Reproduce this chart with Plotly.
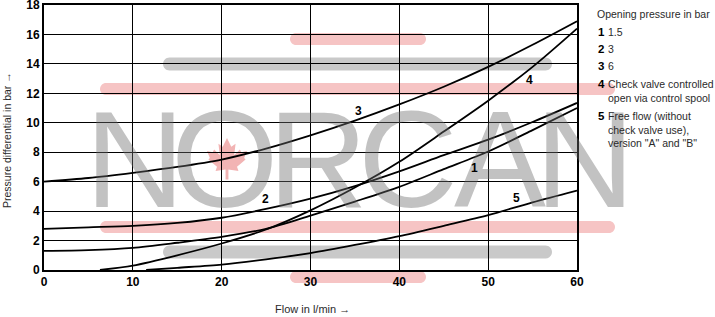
import plotly.graph_objects as go

# ---------------- data ----------------
x_main = [0, 5, 10, 15, 20, 25, 30, 35, 40, 45, 50, 55, 60]
curve1 = [1.3, 1.35, 1.5, 1.85, 2.25, 2.8, 3.7, 4.65, 5.65, 6.85, 8.05, 9.5, 11.0]
curve2 = [2.8, 2.9, 3.0, 3.2, 3.55, 4.15, 4.85, 5.7, 6.7, 7.8, 8.85, 10.05, 11.35]
curve3 = [6.0, 6.25, 6.6, 7.0, 7.5, 8.25, 9.15, 10.15, 11.25, 12.45, 13.8, 15.3, 16.9]
x_curve4 = [6.3, 10, 15, 20, 25, 30, 35, 40, 45, 50, 55, 60]
curve4 = [0.0, 0.3, 1.0, 1.8, 2.75, 4.05, 5.6, 7.35, 9.4, 11.5, 13.8, 16.4]
x_curve5 = [11.5, 15, 20, 25, 30, 35, 40, 45, 50, 55, 60]
curve5 = [0.0, 0.15, 0.37, 0.72, 1.15, 1.7, 2.3, 3.0, 3.72, 4.6, 5.4]

curve_label_text = ["1", "2", "3", "4", "5"]
curve_label_x = [48.5, 24.9, 35.4, 54.6, 53.2]
curve_label_y = [6.9, 4.8, 10.82, 12.9, 4.87]

x_ticks = [0, 10, 20, 30, 40, 50, 60]
y_ticks = [0, 2, 4, 6, 8, 10, 12, 14, 16, 18]

legend_title = "Opening pressure in bar"
legend_nums = ["1", "2", "3", "4", "5"]
legend_texts = ["1.5", "3", "6",
                "Check valve controlled<br>open via control spool",
                "Free flow (without<br>check valve use),<br>version \"A\" and \"B\""]

x_title = "Flow in l/min \u2192"
y_title = "Pressure differential in bar \u2192"

watermark_letters = ["N", "O", "R", "C", "A", "N"]

# ---------------- layout geometry (pixels) ----------------
FW, FH = 715, 317
L, T, W, H = 44, 5, 533, 265
R = FW - L - W
B = FH - T - H

def pxx(px):
    return (px - L) / W

def pxy(py):
    return (T + H - py) / H

BASE = "Liberation Sans, Arial, sans-serif"
TXT = "#2a2a2a"

fig = go.Figure()

line_style = dict(color="black", width=1.8, shape="spline", smoothing=0.8)
for xs, ys in [(x_main, curve1), (x_main, curve2), (x_main, curve3),
               (x_curve4, curve4), (x_curve5, curve5)]:
    fig.add_trace(go.Scatter(x=xs, y=ys, mode="lines", line=line_style,
                             hoverinfo="skip", showlegend=False))

# ---------------- watermark bars ----------------
def pill(a, r):
    k = 0.5523 * r
    return (f"M {-a},{-r} L {a},{-r} C {a+k},{-r} {a+r},{-k} {a+r},0 "
            f"C {a+r},{k} {a+k},{r} {a},{r} L {-a},{r} "
            f"C {-a-k},{r} {-a-r},{k} {-a-r},0 C {-a-r},{-k} {-a-k},{-r} {-a},{-r} Z")

PINK = "#f6c4c4"
GRAY = "#c9c9c9"
bars = [(290, 426, 39, 12, PINK), (163, 552, 64, 13, GRAY), (100, 615, 89, 12, PINK),
        (100, 615, 227, 12, PINK), (163, 552, 252, 13, GRAY), (290, 426, 277, 12, PINK)]
shapes = []
for x0, x1, yc, h, col in bars:
    r = h / 2
    a = (x1 - x0) / 2 - r
    shapes.append(dict(type="path", xref="paper", yref="paper",
                       xsizemode="pixel", ysizemode="pixel",
                       xanchor=pxx((x0 + x1) / 2), yanchor=pxy(yc),
                       path=pill(a, r), fillcolor=col, line=dict(width=0),
                       layer="below"))

leaf = [(0, 15), (3, 9), (6, 11), (5, 3), (9, 7), (10, 5), (14, 6), (12, 1), (13, 0),
        (7, -5), (8, -8), (1, -7), (1, -14)]
leaf_full = leaf + [(-px_, py_) for px_, py_ in reversed(leaf)]
s = 1.43
leaf_path = "M " + " L ".join(f"{p[0]*s:.2f},{p[1]*s:.2f}" for p in leaf_full) + " Z"
shapes.append(dict(type="path", xref="paper", yref="paper",
                   xsizemode="pixel", ysizemode="pixel",
                   xanchor=pxx(227), yanchor=pxy(159.5),
                   path=leaf_path, fillcolor="#f2b4b4", line=dict(width=0),
                   layer="below"))

# ---------------- annotations ----------------
ann = []
# watermark letters
letter_centers_px = [135, 225, 318, 408, 500, 585]
for ch, cx in zip(watermark_letters, letter_centers_px):
    ann.append(dict(x=pxx(cx), y=pxy(159), xref="paper", yref="paper", text=ch,
                    showarrow=False, xanchor="center", yanchor="middle",
                    font=dict(family=BASE, size=138, color="rgba(110,110,110,0.42)")))

for t, xv, yv in zip(curve_label_text, curve_label_x, curve_label_y):
    ann.append(dict(x=xv, y=yv, xref="x", yref="y", text=f"<b>{t}</b>", showarrow=False,
                    font=dict(family=BASE, size=12, color="black")))

ann.append(dict(x=pxx(595), y=pxy(14), xref="paper", yref="paper", text=legend_title,
                xanchor="left", yanchor="middle", showarrow=False,
                font=dict(family=BASE, size=10.5, color=TXT)))
num_y = [32, 49, 66, 84, 116]
for n, t, yy in zip(legend_nums, legend_texts, num_y):
    ann.append(dict(x=pxx(595.5), y=pxy(yy), xref="paper", yref="paper",
                    text=f"<b>{n}</b>", xanchor="left", yanchor="middle", showarrow=False,
                    font=dict(family=BASE, size=11.5, color="black")))
    ann.append(dict(x=pxx(606), y=pxy(yy - 8), xref="paper", yref="paper",
                    text=t, xanchor="left", yanchor="top", align="left", showarrow=False,
                    font=dict(family=BASE, size=10.5, color=TXT)))

ann.append(dict(x=pxx(312), y=pxy(309), xref="paper", yref="paper", text=x_title,
                showarrow=False, xanchor="center", yanchor="middle",
                font=dict(family=BASE, size=11, color=TXT)))
ann.append(dict(x=pxx(7), y=pxy(140), xref="paper", yref="paper", text=y_title,
                showarrow=False, textangle=-90, xanchor="center", yanchor="middle",
                font=dict(family=BASE, size=10.5, color=TXT)))

fig.update_layout(
    width=FW, height=FH,
    margin=dict(l=L, r=R, t=T, b=B, pad=0, autoexpand=False),
    paper_bgcolor="white", plot_bgcolor="rgba(0,0,0,0)",
    shapes=shapes, annotations=ann, showlegend=False,
    xaxis=dict(range=[0, 60], tickvals=x_ticks, ticktext=[f"<b>{v}</b>" for v in x_ticks],
               showgrid=True, gridcolor="black", gridwidth=1, zeroline=False,
               showline=True, linecolor="black", linewidth=2, mirror=True,
               ticks="", automargin=False, ticklabeloverflow="allow",
               tickfont=dict(family=BASE, size=12, color="black")),
    yaxis=dict(range=[0, 18], tickvals=y_ticks, ticktext=[f"<b>{v}</b>" for v in y_ticks],
               showgrid=True, gridcolor="black", gridwidth=1, zeroline=False,
               showline=True, linecolor="black", linewidth=2, mirror=True,
               ticks="", automargin=False, ticklabeloverflow="allow",
               tickfont=dict(family=BASE, size=12, color="black")),
)

fig.write_html("out.html")
